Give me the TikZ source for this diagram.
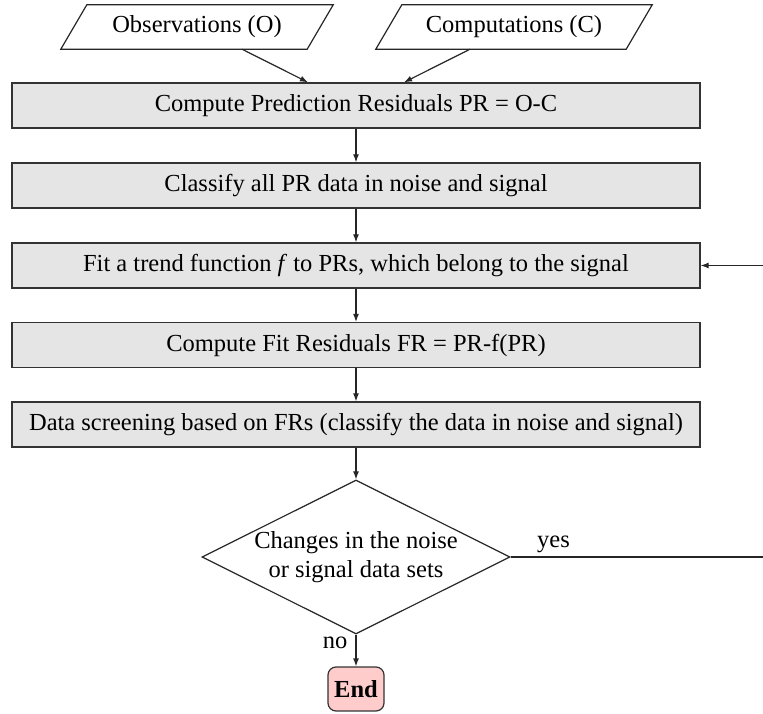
\documentclass[tikz,border=0pt]{standalone}
\usepackage{fontspec}
\setmainfont{Liberation Serif}
\usetikzlibrary{shapes.geometric,arrows.meta,calc}
\begin{document}
\begin{tikzpicture}[x=1pt,y=-1pt,
  font=\fontsize{24.5pt}{29pt}\selectfont,
  iotext/.style={rectangle, minimum height=44pt, inner sep=0pt},
  ioline/.style={draw=black!85, line width=1.2pt, line join=miter},
  proc/.style={rectangle, draw=black!80, fill=black!10, line width=1.3pt,
    minimum width=688pt, minimum height=45pt, inner sep=0pt},
  dec/.style={diamond, draw=black!85, aspect=2, inner sep=0pt,
    minimum width=308pt, minimum height=154pt, align=center, line width=1.2pt},
  term/.style={rectangle, rounded corners=8pt, draw=black!80, fill=red!20,
    line width=1.2pt, minimum width=56pt, minimum height=44pt, inner sep=0pt,
    font=\fontsize{24.5pt}{29pt}\selectfont\bfseries},
  arr/.style={-{Latex[length=8pt,width=6pt]}, line width=1.2pt, draw=black!85},
  lin/.style={line width=1.2pt, draw=black!85},
  lbl/.style={inner sep=0pt}
]
\useasboundingbox (0,0) rectangle (763,714);

\node[iotext, minimum width=246pt] (obs) at (197,27) {Observations (O)};
\node[iotext, minimum width=250pt] (comp) at (514,27) {Computations (C)};
\draw[ioline] ([xshift=13pt]obs.north west) -- ([xshift=13pt]obs.north east)
  -- ([xshift=-13pt]obs.south east) -- ([xshift=-13pt]obs.south west) -- cycle;
\draw[ioline] ([xshift=13pt]comp.north west) -- ([xshift=13pt]comp.north east)
  -- ([xshift=-13pt]comp.south east) -- ([xshift=-13pt]comp.south west) -- cycle;

\node[proc] (p1) at (356,105.5) {Compute Prediction Residuals PR = O-C};
\node[proc] (p2) at (356,185.5) {Classify all PR data in noise and signal};
\node[proc] (p3) at (356,265.5) {Fit a trend function \textit{f} to PRs, which belong to the signal};
\node[proc] (p4) at (356,345) {Compute Fit Residuals FR = PR-f(PR)};
\node[proc] (p5) at (356,424.5) {Data screening based on FRs (classify the data in noise and signal)};

\node[dec] (dec) at (356,557) {Changes in the noise\\or signal data sets};
\node[term] (end) at (356,689) {End};

\coordinate (ryes) at (763,557);
\coordinate (rin) at (763,265.5);

\draw[arr] ($(obs.south)+(45,0)$) -- ($(p1.north)+(-48,0)$);
\draw[arr] ($(comp.south)+(-44,0)$) -- ($(p1.north)+(48,0)$);
\draw[arr] (p1) -- (p2);
\draw[arr] (p2) -- (p3);
\draw[arr] (p3) -- (p4);
\draw[arr] (p4) -- (p5);
\draw[arr] (p5) -- (dec);
\draw[arr] (dec.south) -- node[lbl, left=8pt, pos=0.25] {no} (end.north);
\draw[lin] (dec.east) -- node[lbl, above=4pt, pos=0.17] {yes} (ryes);
\draw[arr] (rin) -- (p3.east);
\end{tikzpicture}
\end{document}
